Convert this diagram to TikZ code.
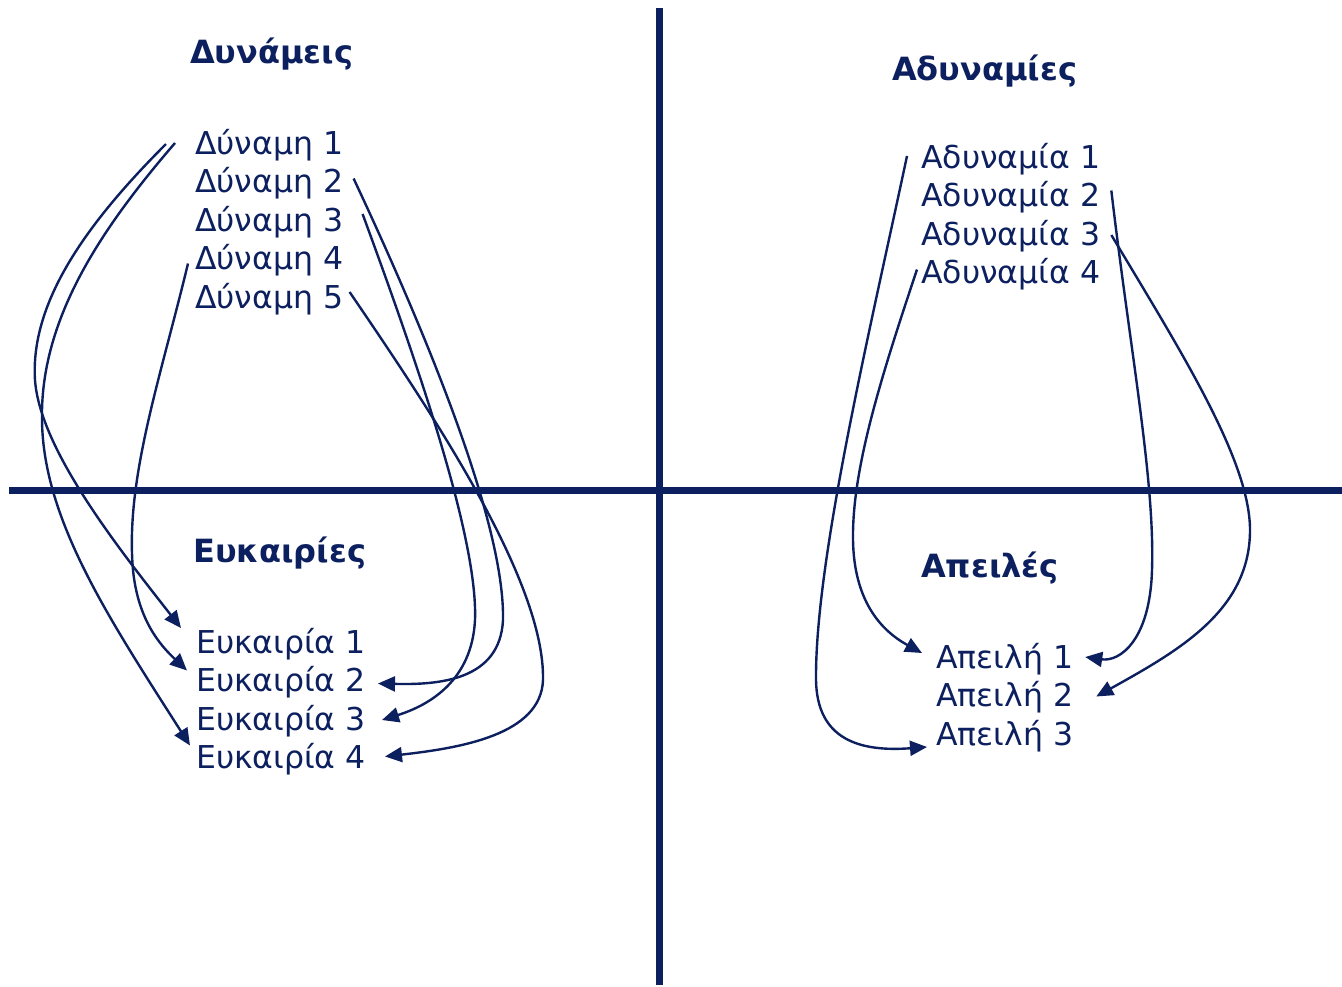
\documentclass[tikz,border=0pt]{standalone}
\usepackage{fontspec}
\setmainfont{DejaVu Sans}
\usetikzlibrary{arrows.meta,calc}
\definecolor{navy}{RGB}{12,31,94}
\begin{document}
\begin{tikzpicture}[x=1pt,y=-1pt,
  item/.style={anchor=base west, inner sep=0pt, font=\fontsize{31.5}{37}\selectfont, text=navy},
  title/.style={anchor=base west, inner sep=0pt, font=\fontsize{32}{38}\selectfont\bfseries, text=navy},
  axis/.style={draw=navy, line width=7pt},
  link/.style={draw=navy, line width=2.4pt, -{Triangle[length=17pt,width=15pt]}}]
\useasboundingbox (0,0) rectangle (1342,986);
% axes
\draw[axis] (659,8) -- (659,985);
\draw[axis] (9,490) -- (1342,490);
% titles
\node[title] (tS) at (190,63) {Δυνάμεις};
\node[title] (tW) at (892,80) {Αδυναμίες};
\node[title] (tO) at (193,562) {Ευκαιρίες};
\node[title] (tT) at (921,577) {Απειλές};
% strengths
\node[item] (d1) at (195,154) {Δύναμη 1};
\node[item] (d2) at (195,192.5) {Δύναμη 2};
\node[item] (d3) at (195,231) {Δύναμη 3};
\node[item] (d4) at (195,269.5) {Δύναμη 4};
\node[item] (d5) at (195,308) {Δύναμη 5};
% weaknesses
\node[item] (a1) at (921,168) {Αδυναμία 1};
\node[item] (a2) at (921,206.5) {Αδυναμία 2};
\node[item] (a3) at (921,245) {Αδυναμία 3};
\node[item] (a4) at (921,283.5) {Αδυναμία 4};
% opportunities
\node[item] (e1) at (196,653) {Ευκαιρία 1};
\node[item] (e2) at (196,691.5) {Ευκαιρία 2};
\node[item] (e3) at (196,730) {Ευκαιρία 3};
\node[item] (e4) at (196,768.5) {Ευκαιρία 4};
% threats
\node[item] (t1) at (936,668) {Απειλή 1};
\node[item] (t2) at (936,706.5) {Απειλή 2};
\node[item] (t3) at (936,745) {Απειλή 3};
% connectors left
\draw[link] ($(d1.base west)+(-29,-10)$) .. controls (90,220) and (30,300) .. (35,380)
  .. controls (40,450) and (120,550) .. ($(e1.base west)+(-15,-25)$);
\draw[link] ($(d1.base west)+(-20,-11)$) .. controls (100,230) and (40,320) .. (42,420)
  .. controls (43,520) and (110,620) .. ($(e4.base west)+(-6,-23)$);
\draw[link] ($(d4.base west)+(-7,-6)$) .. controls (160,380) and (125,480) .. (133,570)
  .. controls (138,620) and (160,645) .. ($(e2.base west)+(-9,-21)$);
\draw[link] ($(d2.base east)+(10,-14)$) .. controls (420,320) and (505,520) .. (503,620)
  .. controls (500,680) and (440,685) .. ($(e2.base east)+(12,-8)$);
\draw[link] ($(d3.base east)+(19,-17)$) .. controls (420,370) and (478,540) .. (475,620)
  .. controls (472,680) and (430,705) .. ($(e3.base east)+(16,-10)$);
\draw[link] ($(d5.base east)+(6,-16)$) .. controls (430,410) and (545,580) .. (543,680)
  .. controls (541,735) and (460,748) .. ($(e4.base east)+(19,-12)$);
% connectors right
\draw[link] ($(a1.base west)+(-14,-12)$) .. controls (870,330) and (815,560) .. (816,680)
  .. controls (817,740) and (860,752) .. ($(t3.base west)+(-9,2)$);
\draw[link] ($(a4.base west)+(-4,-14)$) .. controls (880,380) and (852,470) .. (853,540)
  .. controls (854,600) and (880,630) .. ($(t1.base west)+(-14,-15)$);
\draw[link] ($(a2.base east)+(11,-16)$) .. controls (1130,350) and (1155,480) .. (1152,570)
  .. controls (1150,640) and (1120,662) .. ($(t1.base east)+(12,-11)$);
\draw[link] ($(a3.base east)+(11,-10)$) .. controls (1180,350) and (1250,460) .. (1250,530)
  .. controls (1250,610) and (1180,650) .. ($(t2.base east)+(23,-10)$);
\end{tikzpicture}
\end{document}
